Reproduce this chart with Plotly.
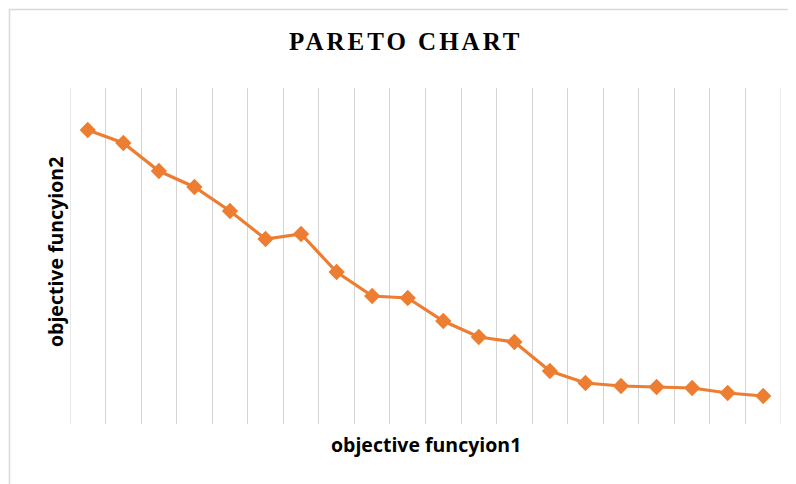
import plotly.graph_objects as go

# Data (20 Pareto solutions)
solution_index = list(range(1, 21))
objective2 = [294, 281, 253, 237, 213, 185, 190, 152, 128, 126,
              103, 87, 82, 53, 41, 38, 37, 36, 31, 28]

title_text = "PARETO CHART"
x_label = "objective funcyion1"
y_label = "objective funcyion2"

ORANGE = "#ED7D31"
GRID = "#D4D4D4"
BORDER = "#D9D9D9"

OFF = 8  # default page body margin
W, H = 796 - OFF, 484 - OFF
# plot area in page pixels: x 70..781, y 88..424
L = 70 - OFF
T = 88 - OFF
R = W - (781 - OFF)
B = H - (424 - OFF)
pw, ph = W - L - R, H - T - B


def px_to_paper_x(px):
    return (px - OFF - L) / pw


def px_to_paper_y(py):
    return (H - B - (py - OFF)) / ph


fig = go.Figure()
fig.add_trace(go.Scatter(
    x=solution_index,
    y=objective2,
    mode="lines+markers",
    line=dict(color=ORANGE, width=3.2),
    marker=dict(symbol="diamond", size=12.5, color=ORANGE),
    showlegend=False,
    hoverinfo="x+y",
))

grid_vals = [i + 0.5 for i in range(0, 21)]

# edge gridlines (plotly omits gridlines exactly at the range ends)
edge_lines = [dict(type="line", xref="x", yref="paper",
                   x0=v, x1=v, y0=0, y1=1,
                   line=dict(color=GRID, width=1), layer="below")
              for v in (grid_vals[0], grid_vals[-1])]

fig.update_layout(
    width=W, height=H,
    margin=dict(l=L, r=R, t=T, b=B, pad=0),
    paper_bgcolor="white",
    plot_bgcolor="white",
    xaxis=dict(
        range=[0.5, 20.5],
        tickvals=grid_vals,
        showticklabels=False,
        ticks="",
        showgrid=True,
        gridcolor=GRID,
        gridwidth=1,
        zeroline=False,
        showline=False,
        fixedrange=True,
    ),
    yaxis=dict(
        range=[0, 336],
        visible=False,
        showgrid=False,
        zeroline=False,
        fixedrange=True,
    ),
    shapes=[dict(
        type="rect", xref="paper", yref="paper",
        x0=px_to_paper_x(9.5), x1=px_to_paper_x(820),
        y0=px_to_paper_y(520), y1=px_to_paper_y(9.5),
        line=dict(color=BORDER, width=1.5),
        fillcolor="rgba(0,0,0,0)",
        layer="below",
    )] + edge_lines,
    annotations=[
        dict(
            text=f'<span style="letter-spacing:3px">{title_text}</span>',
            xref="paper", yref="paper",
            x=px_to_paper_x(406), y=px_to_paper_y(41),
            xanchor="center", yanchor="middle",
            showarrow=False,
            font=dict(family="Liberation Serif", size=25, color="#000000",
                      weight="bold"),
        ),
        dict(
            text=x_label,
            xref="paper", yref="paper",
            x=px_to_paper_x(426), y=px_to_paper_y(444),
            xanchor="center", yanchor="middle",
            showarrow=False,
            font=dict(family="Open Sans", size=19.5, color="#000000",
                      weight="bold"),
        ),
        dict(
            text=y_label,
            xref="paper", yref="paper",
            x=px_to_paper_x(55), y=px_to_paper_y(252),
            xanchor="center", yanchor="middle",
            textangle=-90,
            showarrow=False,
            font=dict(family="Open Sans", size=19.5, color="#000000",
                      weight="bold"),
        ),
    ],
)

fig.write_html("out.html")
